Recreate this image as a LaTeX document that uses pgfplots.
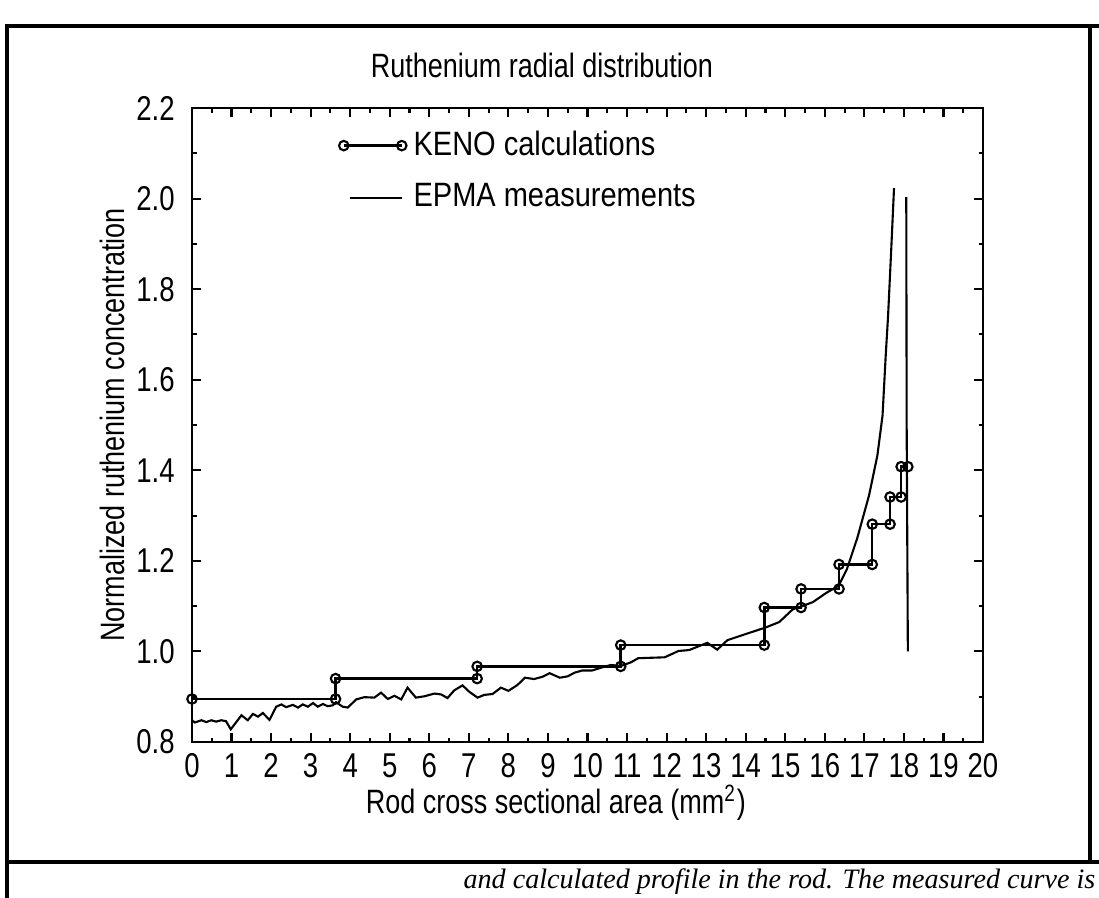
\documentclass[border=0pt]{standalone}
\usepackage{fontspec}
\setmainfont{Liberation Sans}
\newfontfamily\narrow{Liberation Sans}[FakeStretch=0.8]
\newfontfamily\legfont{Liberation Sans}[FakeStretch=0.86]
\newfontfamily\capfont{Liberation Serif}
\usepackage{pgfplots}
\pgfplotsset{compat=1.18}
\newcommand\fs{\narrow\fontsize{9.6}{11}\selectfont}
\newcommand\ts{\narrow\fontsize{9.8}{11}\selectfont}
\pgfplotsset{
  kenolegend/.style={legend image code/.code={%
    \draw[##1, mark repeat=2, mark phase=1] plot coordinates {(0cm,0cm) (0.29cm,0cm) (0.58cm,0cm)};}},
  linelegend/.style={legend image code/.code={%
    \draw[##1] (0.06cm,0cm) -- (0.58cm,0cm);}},
}

\begin{document}
\begin{tikzpicture}
\useasboundingbox (0,0) rectangle (10.99,-8.98);
\clip (0,0) rectangle (10.99,-8.98);
% frame of the scanned page
\draw[line width=1pt] (0.07,-8.98) -- (0.07,-0.26) -- (10.99,-0.26);
\draw[line width=1pt] (10.90,-0.26) -- (10.90,-8.62);
\draw[line width=1pt] (0.07,-8.62) -- (10.99,-8.62);
\node[anchor=base east, inner sep=0, font=\capfont\itshape\fontsize{8}{9}\selectfont]
  at (10.96,-8.88) {and calculated profile in the rod. The measured curve is};
\node[font=\fs] at (5.42,-0.65) {Ruthenium radial distribution};

\begin{axis}[
    at={(1.92cm,-7.42cm)}, anchor=south west,
    scale only axis, width=7.91cm, height=6.34cm,
    xmin=0, xmax=20, ymin=0.8, ymax=2.2,
    xtick={0,1,...,20}, minor x tick num=1,
    ytick={0.8,1,1.2,1.4,1.6,1.8,2,2.2}, minor y tick num=1,
    tick align=inside,
    major tick length=0.09cm, minor tick length=0.045cm,
    axis line style={line width=0.8pt},
    every tick/.style={black, line width=0.6pt},
    /pgf/number format/assume math mode=true,
    ticklabel style={font=\ts},
    xticklabel style={yshift=0.01cm},
    yticklabel style={xshift=-0.05cm, /pgf/number format/.cd, fixed, fixed zerofill, precision=1},
    xlabel={Rod cross sectional area (mm\textsuperscript{2})},
    ylabel={Normalized ruthenium concentration},
    label style={font=\fs},
    xlabel style={at={(axis description cs:0.46,-0.096)}, anchor=center},
    ylabel style={at={(axis description cs:-0.1,0.5)}, anchor=center, rotate=0},
    legend style={draw=none, fill=none, font=\legfont\fontsize{9.6}{11}\selectfont, inner sep=0pt,
        at={(axis description cs:0.185,0.9)}, anchor=west, row sep=0.09cm},
    legend cell align=left,
    unbounded coords=jump,
]
\addplot[black, line width=0.7pt, mark=o,
    mark options={line width=0.6pt, fill=white}, mark size=1.35pt,
    kenolegend] coordinates {
    (0,0.895) (3.63,0.895) (3.63,0.940) (7.21,0.940) (7.21,0.967)
    (10.84,0.967) (10.84,1.014) (14.47,1.014) (14.47,1.097) (15.40,1.097)
    (15.40,1.138) (16.36,1.138) (16.36,1.192) (17.20,1.192) (17.20,1.281)
    (17.65,1.281) (17.65,1.341) (17.93,1.341) (17.93,1.408) (18.10,1.408)
};
\addlegendentry{KENO calculations}

\addplot[black, line width=0.6pt, linelegend] coordinates {
    (0.00,0.848) (0.07,0.843) (0.24,0.848) (0.36,0.844) (0.49,0.848)
    (0.61,0.845) (0.74,0.848) (0.86,0.846) (0.98,0.828) (1.25,0.859)
    (1.41,0.848) (1.54,0.862) (1.67,0.856) (1.79,0.864) (1.96,0.849)
    (2.13,0.878) (2.26,0.883) (2.38,0.877) (2.55,0.882) (2.68,0.876)
    (2.80,0.883) (2.93,0.878) (3.06,0.886) (3.18,0.878) (3.31,0.884)
    (3.43,0.879) (3.56,0.881) (3.64,0.888) (3.81,0.878) (3.94,0.876)
    (4.15,0.894) (4.36,0.899) (4.61,0.898) (4.78,0.909) (4.95,0.895)
    (5.12,0.902) (5.29,0.894) (5.45,0.920) (5.66,0.898) (5.88,0.901)
    (6.13,0.907) (6.30,0.905) (6.46,0.897) (6.63,0.914) (6.84,0.925)
    (7.01,0.911) (7.22,0.898) (7.39,0.904) (7.60,0.906) (7.81,0.920)
    (8.00,0.913) (8.23,0.926) (8.42,0.942) (8.65,0.939) (8.86,0.944)
    (9.04,0.952) (9.30,0.942) (9.50,0.945) (9.67,0.953) (9.87,0.958)
    (10.12,0.958) (10.34,0.964) (10.59,0.970) (10.85,0.968) (11.10,0.976)
    (11.28,0.985) (11.60,0.986) (11.95,0.987) (12.30,1.001) (12.57,1.003)
    (13.03,1.019) (13.28,1.004) (13.54,1.025) (14.09,1.041) (14.51,1.053)
    (14.85,1.065) (15.19,1.093) (15.40,1.099) (15.70,1.109) (16.05,1.130)
    (16.35,1.145) (16.56,1.182) (16.82,1.250) (17.12,1.345) (17.33,1.433)
    (17.46,1.521) (17.54,1.653) (17.60,1.741) (17.68,1.888) (17.75,2.023)
    (17.90,nan)
    (18.06,2.003) (18.07,1.500) (18.10,1.000)
};
\addlegendentry{EPMA measurements}
\end{axis}
\end{tikzpicture}
\end{document}
